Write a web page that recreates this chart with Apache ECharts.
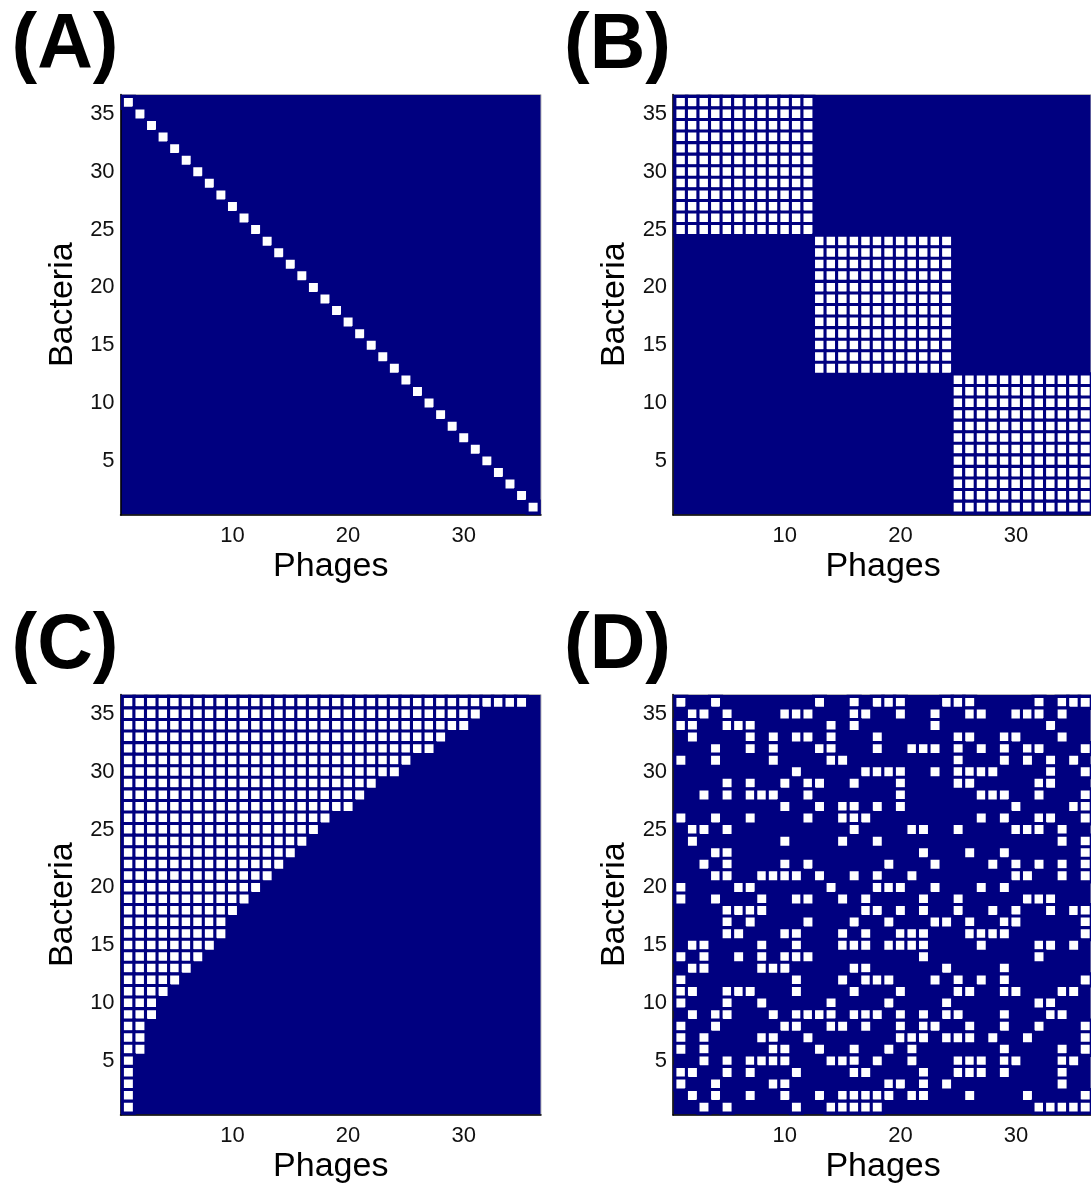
<!DOCTYPE html>
<html>
<head>
<meta charset="utf-8">
<script src="https://cdn.jsdelivr.net/npm/echarts@6/dist/echarts.min.js"></script>
<style>
  html, body { margin: 0; padding: 0; background: #fff; }
  #chart { width: 1091px; height: 1185px; }
</style>
</head>
<body>
<div id="chart"></div>
<script>
// Axis categories
const phages = ['1','2','3','4','5','6','7','8','9','10','11','12','13','14','15','16','17','18',
  '19','20','21','22','23','24','25','26','27','28','29','30','31','32','33','34','35','36'];
const bacteria = ['1','2','3','4','5','6','7','8','9','10','11','12','13','14','15','16','17','18',
  '19','20','21','22','23','24','25','26','27','28','29','30','31','32','33','34','35','36'];
const phageTicks = ['10', '20', '30'];
const bacteriaTicks = ['5', '10', '15', '20', '25', '30', '35'];

// Each network: one entry per bacterium, from bacterium 36 (top row) down to bacterium 1,
// listing the phages that infect it.
const oneToOne = [
  [1],[2],[3],[4],[5],[6],[7],[8],[9],[10],[11],[12],[13],[14],[15],[16],[17],[18],
  [19],[20],[21],[22],[23],[24],[25],[26],[27],[28],[29],[30],[31],[32],[33],[34],[35],[36]
];

const modular = [
  [1,2,3,4,5,6,7,8,9,10,11,12],[1,2,3,4,5,6,7,8,9,10,11,12],[1,2,3,4,5,6,7,8,9,10,11,12],
  [1,2,3,4,5,6,7,8,9,10,11,12],[1,2,3,4,5,6,7,8,9,10,11,12],[1,2,3,4,5,6,7,8,9,10,11,12],
  [1,2,3,4,5,6,7,8,9,10,11,12],[1,2,3,4,5,6,7,8,9,10,11,12],[1,2,3,4,5,6,7,8,9,10,11,12],
  [1,2,3,4,5,6,7,8,9,10,11,12],[1,2,3,4,5,6,7,8,9,10,11,12],[1,2,3,4,5,6,7,8,9,10,11,12],
  [13,14,15,16,17,18,19,20,21,22,23,24],[13,14,15,16,17,18,19,20,21,22,23,24],[13,14,15,16,17,18,19,20,21,22,23,24],
  [13,14,15,16,17,18,19,20,21,22,23,24],[13,14,15,16,17,18,19,20,21,22,23,24],[13,14,15,16,17,18,19,20,21,22,23,24],
  [13,14,15,16,17,18,19,20,21,22,23,24],[13,14,15,16,17,18,19,20,21,22,23,24],[13,14,15,16,17,18,19,20,21,22,23,24],
  [13,14,15,16,17,18,19,20,21,22,23,24],[13,14,15,16,17,18,19,20,21,22,23,24],[13,14,15,16,17,18,19,20,21,22,23,24],
  [25,26,27,28,29,30,31,32,33,34,35,36],[25,26,27,28,29,30,31,32,33,34,35,36],[25,26,27,28,29,30,31,32,33,34,35,36],
  [25,26,27,28,29,30,31,32,33,34,35,36],[25,26,27,28,29,30,31,32,33,34,35,36],[25,26,27,28,29,30,31,32,33,34,35,36],
  [25,26,27,28,29,30,31,32,33,34,35,36],[25,26,27,28,29,30,31,32,33,34,35,36],[25,26,27,28,29,30,31,32,33,34,35,36],
  [25,26,27,28,29,30,31,32,33,34,35,36],[25,26,27,28,29,30,31,32,33,34,35,36],[25,26,27,28,29,30,31,32,33,34,35,36]
];

// Nested network: each bacterium is infected by phages 1..n (n listed top to bottom)
const nestedCounts = [35, 31, 30, 28, 27, 25, 24, 22, 21, 20, 18, 17, 16, 15, 14, 13, 12, 11,
  10, 9, 9, 8, 7, 6, 5, 4, 3, 3, 2, 2, 2, 1, 1, 1, 1, 1];

const randomNet = [
  [1,4,13,16,18,19,20,24,25,26,32,34,35,36],
  [2,3,5,10,11,12,16,17,20,23,26,27,30,31,32,34],
  [1,2,5,6,7,14,16,23,33],
  [2,7,9,11,12,14,18,25,26,29,30,34],
  [4,7,9,13,14,18,21,22,23,25,27,29,31,32,36],
  [1,4,9,14,15,25,29,31,33,35],
  [11,17,18,19,20,23,25,26,27,28,33,36],
  [5,7,10,12,13,16,20,25,26,32,33],
  [3,5,7,8,9,12,20,27,28,29,32,36],
  [10,13,15,16,18,20,30,35,36],
  [1,4,7,12,15,16,17,27,29,32,33,36],
  [2,3,5,16,21,22,25,30,31,32,34],
  [2,10,15,18,34,36],
  [4,5,22,26,29,36],
  [3,5,10,12,19,23,28,30,32,34,36],
  [4,5,8,9,10,11,13,16,18,21,30,31,34,36],
  [1,6,7,14,18,19,20,23,27,29],
  [1,4,8,11,12,15,17,22,25,31,32,33],
  [5,6,7,8,17,18,20,22,25,28,30,33,35,36],
  [5,7,12,16,19,23,24,26,29,30,36],
  [5,6,10,11,15,17,20,21,22,26,27,28,29,36],
  [2,3,8,11,15,16,17,19,20,21,22,27,32,33,35],
  [1,3,6,8,10,11,12,22,32],
  [2,3,8,9,10,16,17,24,29],
  [1,11,15,17,18,19,23,25,27,29,36],
  [1,2,5,6,7,11,16,20,25,26,29,30,34,35],
  [1,5,8,14,19,24,32,33],
  [2,4,5,9,11,12,13,14,16,17,18,20,22,24,25,29,33,34],
  [1,4,10,11,14,15,17,20,22,23,26,29,32,36],
  [1,3,8,9,12,20,21,22,24,25,26,28,31,36],
  [1,3,9,10,13,16,19,21,29,34,36],
  [3,5,7,8,9,10,14,15,16,18,21,25,26,27,29,30,34,35],
  [1,2,5,7,11,16,17,22,25,26,27,29,34],
  [1,4,9,10,19,20,22,24,34],
  [2,4,7,10,13,15,16,17,18,19,21,22,26,31,36],
  [3,5,11,14,15,16,17,18,32,33,34,35,36]
];

// Expand the nested counts into phage lists
const nested = nestedCounts.map(n => phages.slice(0, n).map(Number));

const NAVY = '#000080';
const FONT = '"Liberation Sans", Arial, Helvetica, sans-serif';

// Panel placement (outer axes box); cells sit slightly inset from the box
const panels = [
  { tag: '(A)', rows: oneToOne, left: 120.5, top: 94.5 },
  { tag: '(B)', rows: modular,  left: 673,   top: 94.5 },
  { tag: '(C)', rows: nested,   left: 120.5, top: 694.5 },
  { tag: '(D)', rows: randomNet, left: 673,  top: 694.5 }
];
const BOX = 420.5;
const INSET = 2.1;
const CELLS = BOX - 2 * INSET;

function toCells(rows) {
  const out = [];
  rows.forEach((list, r) => {
    const b = bacteria.length - 1 - r;
    list.forEach(p => out.push([p - 1, b, 1]));
  });
  return out;
}

const grid = [], xAxis = [], yAxis = [], series = [], graphic = [];

panels.forEach((p, i) => {
  // frame: navy axes box with dark left/bottom axis lines
  grid.push({
    show: true, left: p.left, top: p.top, width: BOX, height: BOX,
    backgroundColor: NAVY, borderColor: '#b8b8b8', borderWidth: 1
  });
  xAxis.push({
    type: 'value', gridIndex: 2 * i, min: 0, max: 1, position: 'bottom',
    axisLine: { show: true, lineStyle: { color: '#000', width: 1.5 } },
    axisTick: { show: false }, axisLabel: { show: false }, splitLine: { show: false }
  });
  yAxis.push({
    type: 'value', gridIndex: 2 * i, min: 0, max: 1, position: 'left',
    axisLine: { show: true, lineStyle: { color: '#000', width: 1.5 } },
    axisTick: { show: false }, axisLabel: { show: false }, splitLine: { show: false }
  });

  // cell grid with the category axes
  grid.push({
    show: false, left: p.left + INSET, top: p.top + INSET, width: CELLS, height: CELLS
  });
  xAxis.push({
    type: 'category', gridIndex: 2 * i + 1, data: phages,
    axisLine: { show: false }, axisTick: { show: false }, splitLine: { show: false },
    axisLabel: {
      interval: (idx, v) => phageTicks.includes(v),
      fontSize: 22, color: '#111', fontFamily: FONT, margin: 12
    },
    name: 'Phages', nameLocation: 'middle', nameGap: 37,
    nameTextStyle: { fontSize: 34, color: '#000', fontFamily: FONT }
  });
  yAxis.push({
    type: 'category', gridIndex: 2 * i + 1, data: bacteria,
    axisLine: { show: false }, axisTick: { show: false }, splitLine: { show: false },
    axisLabel: {
      interval: (idx, v) => bacteriaTicks.includes(v),
      fontSize: 22, color: '#111', fontFamily: FONT, margin: 8,
      padding: [10, 0, 0, 0]
    },
    name: 'Bacteria', nameLocation: 'middle', nameGap: 43, nameRotate: 90,
    nameTextStyle: { fontSize: 34, color: '#000', fontFamily: FONT }
  });

  series.push({
    type: 'heatmap', xAxisIndex: 2 * i + 1, yAxisIndex: 2 * i + 1,
    data: toCells(p.rows),
    itemStyle: { color: '#ffffff', borderColor: NAVY, borderWidth: 3.1 },
    emphasis: { disabled: true }, silent: true
  });

  graphic.push({
    type: 'text', left: p.left - 109, top: p.top - 86,
    style: { text: p.tag, font: 'bold 77px ' + FONT, fill: '#000' }
  });
});

const chart = echarts.init(document.getElementById('chart'), null, { renderer: 'canvas' });
chart.setOption({
  animation: false,
  backgroundColor: '#ffffff',
  grid, xAxis, yAxis, series, graphic
});
</script>
</body>
</html>
